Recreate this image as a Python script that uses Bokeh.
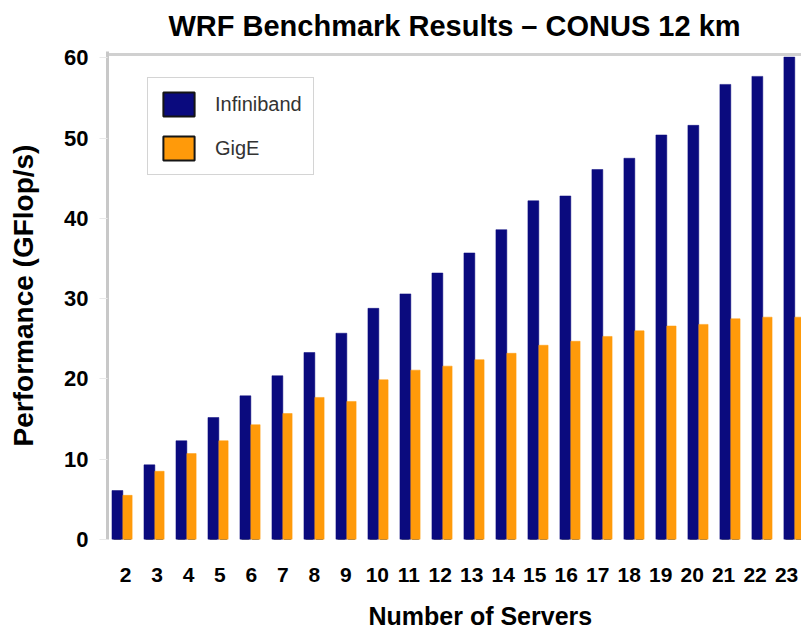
from bokeh.plotting import figure
from bokeh.models import (ColumnDataSource, Range1d, LinearAxis, FixedTicker,
                          Legend, LegendItem, Title)
from bokeh.transform import dodge
from bokeh.embed import file_html
from bokeh.resources import INLINE

servers = [2, 3, 4, 5, 6, 7, 8, 9, 10, 11, 12, 13, 14, 15, 16, 17, 18, 19, 20, 21, 22, 23]
infiniband = [6.1, 9.3, 12.3, 15.2, 17.9, 20.4, 23.3, 25.7, 28.8, 30.6, 33.2, 35.7,
              38.6, 42.2, 42.8, 46.1, 47.5, 50.4, 51.6, 56.7, 57.7, 60.1]
gige = [5.5, 8.5, 10.7, 12.3, 14.3, 15.7, 17.7, 17.2, 19.9, 21.1, 21.6, 22.4,
        23.2, 24.2, 24.7, 25.3, 26.0, 26.6, 26.8, 27.5, 27.7, 27.7]
y_ticks = [0, 10, 20, 30, 40, 50, 60]

NAVY = "#0A0A7E"
ORANGE = "#FF9A0A"
FONT = "Liberation Sans"

source = ColumnDataSource(dict(servers=servers, infiniband=infiniband, gige=gige))

p = figure(width=801, height=630, output_backend="svg", toolbar_location=None,
           x_range=Range1d(1.53, 23.22), y_range=Range1d(0, 60.8),
           x_axis_location=None, y_axis_location="left",
           min_border_left=107, min_border_right=0, min_border_top=51,
           min_border_bottom=91)
p.title = None
p.outline_line_color = None
p.background_fill_color = "white"
p.border_fill_color = "white"

main_title = Title(text="WRF Benchmark Results \u2013 CONUS 12 km", align="center",
                   vertical_align="top", standoff=15,
                   text_font=FONT, text_font_size="29px", text_font_style="bold",
                   text_color="black")
p.add_layout(main_title, "above")

# legend swatches: drawn on a compressed range, narrower than and hidden under
# the real bars; they only serve to give the legend boxes dark borders
p.extra_y_ranges = {"legend_only": Range1d(0, 300)}
leg_ib = p.vbar(x=dodge("servers", -0.16), top="infiniband", width=0.2, source=source,
                y_range_name="legend_only",
                fill_color=NAVY, line_color="#151515", line_width=2)
leg_ge = p.vbar(x=dodge("servers", 0.155), top="gige", width=0.18, source=source,
                y_range_name="legend_only",
                fill_color=ORANGE, line_color="#151515", line_width=2)

p.vbar(x=dodge("servers", -0.16), top="infiniband", width=0.34, bottom=0,
       source=source, fill_color=NAVY, line_color=NAVY, line_width=0.5)
p.vbar(x=dodge("servers", 0.155), top="gige", width=0.29, bottom=0,
       source=source, fill_color=ORANGE, line_color=ORANGE, line_width=0.5)

legend = Legend(items=[LegendItem(label="Infiniband", renderers=[leg_ib]),
                       LegendItem(label="GigE", renderers=[leg_ge])],
                location=(40, 364), glyph_width=39, glyph_height=30,
                label_height=30, label_standoff=17, spacing=14, padding=11,
                margin=0,
                label_text_font=FONT, label_text_font_size="20px",
                label_text_color="#333333",
                border_line_color="#aaaaaa", border_line_width=1.5,
                background_fill_color="white", background_fill_alpha=1)
p.add_layout(legend)

# grid: only a top border line
p.xgrid.visible = False
p.ygrid.ticker = FixedTicker(ticks=[60.4])
p.ygrid.grid_line_color = "#d0d0d0"
p.ygrid.grid_line_width = 3

# y axis
yax = p.yaxis[0]
yax.ticker = FixedTicker(ticks=y_ticks)
yax.axis_label = "Performance (GFlop/s)"
yax.axis_label_text_font = FONT
yax.axis_label_text_font_size = "28px"
yax.axis_label_text_font_style = "bold"
yax.axis_label_text_color = "black"
yax.axis_label_standoff = 22
yax.major_label_text_font = FONT
yax.major_label_text_font_size = "22px"
yax.major_label_text_font_style = "bold"
yax.major_label_text_color = "black"
yax.major_label_standoff = 11
yax.axis_line_color = "#c8c8c8"
yax.axis_line_width = 3
yax.major_tick_line_color = "#e8e8e8"
yax.major_tick_out = 8
yax.major_tick_in = 0
yax.minor_tick_line_color = None

# x axis (labels) on its own range
p.extra_x_ranges = {"lab": Range1d(1.428, 23.474)}
xax = LinearAxis(x_range_name="lab", ticker=FixedTicker(ticks=servers))
xax.major_label_text_font = FONT
xax.major_label_text_font_size = "21px"
xax.major_label_text_font_style = "bold"
xax.major_label_text_color = "black"
xax.major_label_standoff = 28
xax.axis_label = " "
xax.axis_label_text_font_size = "2px"
xax.axis_label_standoff = 9
xax.axis_line_color = None
xax.major_tick_line_color = None
xax.major_tick_out = 0
xax.major_tick_in = 0
xax.minor_tick_line_color = None
p.add_layout(xax, "below")

xtitle = Title(text="Number of Servers", align="left", offset=261, standoff=2,
               text_font=FONT, text_font_size="25px", text_font_style="bold",
               text_color="black")
p.add_layout(xtitle, "below")

open("out.html", "w").write(file_html(p, INLINE))
